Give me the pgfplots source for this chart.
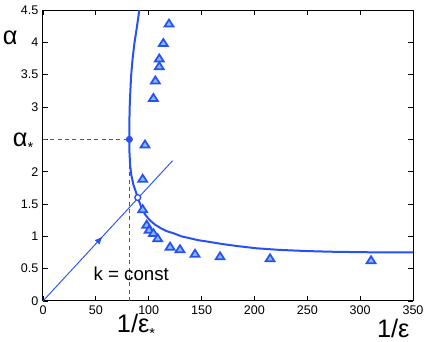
\documentclass[border=0pt]{standalone}
\usepackage{fontspec}
\setmainfont{Liberation Sans}
\usepackage{pgfplots}
\pgfplotsset{compat=1.18}
\usetikzlibrary{decorations.markings,arrows.meta}
\definecolor{curveblue}{RGB}{40,80,245}
\definecolor{markfill}{RGB}{130,190,255}
\newcommand{\lowstar}{\raisebox{-0.45ex}{\fontsize{11}{12}\selectfont *}}

\begin{document}
\begin{tikzpicture}
\begin{axis}[
  name=ax,
  width=277.5pt, height=218.25pt, scale only axis,
  xmin=0, xmax=350, ymin=0, ymax=4.5,
  xtick={0,50,...,350},
  ytick={0,0.5,1,1.5,2,3,3.5,4,4.5},
  extra y ticks={2.5}, extra y tick labels={},
  tick align=inside,
  major tick length=4pt,
  axis line style={line width=0.75pt},
  tick style={line width=0.6pt, black},
  ticklabel style={font=\fontsize{9.4}{11}\selectfont},
  /pgf/number format/assume math mode=true,
  /pgf/number format/fixed,
  clip=false,
]
% dashed guides to the critical point
\addplot[curveblue, line width=0.8pt, dash pattern=on 3pt off 2.5pt] coordinates {(0,2.5)(81.7,2.5)};
\addplot[curveblue, line width=0.8pt, dash pattern=on 3pt off 2.5pt] coordinates {(81.7,0)(81.7,2.5)};
% k = const ray
\addplot[curveblue, line width=0.7pt, postaction={decorate},
  decoration={markings, mark=at position 0.46 with {\arrow{Latex[length=6pt,width=5pt]}}}]
  coordinates {(0,0)(122.6,2.17)};
% theory curve
\addplot[curveblue, line width=1.5pt] coordinates {
  (91.1,4.5)(88.5,4.2)(86.4,3.98)(84.6,3.72)(83.3,3.47)(82.5,3.2)(82.0,3.0)
  (81.7,2.75)(81.7,2.5)(81.8,2.3)(82.4,2.1)(83.5,1.95)(85.5,1.8)(87.8,1.69)
  (89.6,1.6)(93,1.45)(96.5,1.34)(101,1.25)(106,1.18)(111,1.13)(117,1.08)
  (123,1.05)(131,1.0)(139,0.97)(147,0.94)(155,0.92)(170,0.88)(186,0.845)
  (202,0.815)(224,0.79)(250,0.772)(272,0.762)(300,0.755)(330,0.75)(350,0.75)
};
% measurements
\addplot[only marks, mark=triangle*, mark size=3.5pt,
  mark options={draw=curveblue, fill=markfill, line width=1.3pt, xscale=1.1}] coordinates {
  (119.2,4.28)(113.8,3.98)(110,3.74)(110,3.62)(106.3,3.40)(104.4,3.13)
  (96.5,2.41)(94.3,1.88)(94.3,1.41)(98.1,1.17)(100.3,1.09)(104.4,1.04)
  (108.5,0.96)(120.2,0.83)(129.6,0.79)(143.8,0.72)(167.5,0.68)(214.8,0.65)
  (310.3,0.62)
};
\addplot[only marks, mark=*, mark size=2.4pt, curveblue] coordinates {(81.7,2.5)};
\addplot[only marks, mark=*, mark size=2.2pt,
  mark options={draw=curveblue, fill=white, line width=1pt}] coordinates {(89.6,1.6)};
% labels
\node[anchor=base west, inner sep=0, font=\fontsize{19}{22}\selectfont] at (axis cs:-38.1,3.96) {α};
\node[anchor=base west, inner sep=0, font=\fontsize{19}{22}\selectfont] at (axis cs:-28.7,2.39) {α\lowstar};
\node[anchor=base west, inner sep=0, font=\fontsize{19}{22}\selectfont] at (axis cs:69.7,-0.49) {1/ε\lowstar};
\node[anchor=base west, inner sep=0, font=\fontsize{19}{22}\selectfont] at (axis cs:315.7,-0.56) {1/ε};
\node[anchor=base west, inner sep=0, font=\fontsize{14}{16}\selectfont] at (axis cs:47.6,0.31) {k = const};
\end{axis}
\pgfresetboundingbox
\path[use as bounding box] ([xshift=-32.25pt,yshift=-30.75pt]ax.south west) rectangle ([xshift=11.25pt,yshift=7.5pt]ax.north east);
\end{tikzpicture}
\end{document}
